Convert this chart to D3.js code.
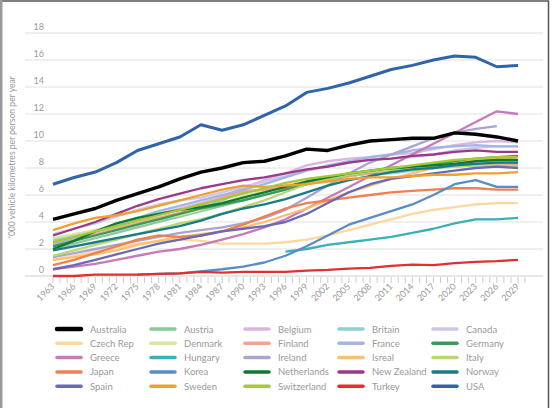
<!DOCTYPE html>
<html>
<head>
<meta charset="utf-8">
<script src="https://cdn.jsdelivr.net/npm/d3@7"></script>
<style>
  body { margin: 0; background: #fff; }
  svg { display: block; font-family: Lato, "Open Sans", sans-serif; }
</style>
</head>
<body>
<div id="chart"></div>
<script>
// years shown on the x axis (every 3 years)
var years = d3.range(1963, 2030, 3);
var yTicks = [0, 2, 4, 6, 8, 10, 12, 14, 16, 18];

var countries = ['Australia','Austria','Belgium','Britain','Canada',
                 'Czech Rep','Denmark','Finland','France','Germany',
                 'Greece','Hungary','Ireland','Isreal','Italy',
                 'Japan','Korea','Netherlands','New Zealand','Norway',
                 'Spain','Sweden','Switzerland','Turkey','USA'];

var colors = ['#000000','#8cc89a','#dcb6dc','#8fd0d0','#cfc6e6',
              '#fcd8a0','#d4e6a0','#f4a48c','#a4b4e4','#3a9a5a',
              '#c77ab8','#3bb0b8','#a8a4d4','#f8c070','#b8d870',
              '#f08050','#5a8cc8','#107a30','#9a3a8a','#1a7a8a',
              '#6a68b8','#f0a030','#a8c838','#e03030','#2f65a8'];

// '000 km per person per year, one value per entry of `years`
var australia   = [4.2,4.6,5.0,5.6,6.1,6.6,7.2,7.7,8.0,8.4,8.5,8.9,9.4,9.3,9.7,10.0,10.1,10.2,10.2,10.6,10.5,10.3,10.0];
var austria     = [2.0,2.4,2.8,3.2,3.6,4.0,4.4,4.8,5.2,5.6,6.0,6.4,6.8,7.1,7.4,7.6,7.8,8.0,8.2,8.4,8.5,8.5,8.5];
var belgium     = [2.6,3.0,3.4,3.8,4.2,4.6,5.0,5.4,5.9,6.5,7.1,7.6,8.2,8.5,8.7,8.8,9.0,9.1,9.4,9.7,9.9,10.0,9.9];
var britain     = [2.7,3.0,3.3,3.6,3.9,4.2,4.5,5.0,5.6,6.2,6.4,6.7,7.0,7.3,7.5,7.6,7.6,7.8,8.0,8.1,8.2,8.3,8.3];
var canada      = [3.1,3.5,3.9,4.4,4.9,5.3,5.6,5.8,6.2,6.6,7.0,7.4,7.8,8.1,8.4,8.6,8.7,8.8,9.0,9.3,9.5,9.6,9.6];
var czechRep    = [1.2,1.5,1.8,2.1,2.4,2.6,2.7,2.6,2.4,2.4,2.4,2.5,2.7,3.0,3.4,3.8,4.2,4.6,4.9,5.1,5.3,5.4,5.4];
var denmark     = [2.8,3.1,3.4,3.7,4.0,4.3,4.5,4.9,5.4,5.9,6.3,6.7,7.0,7.2,7.4,7.6,7.8,8.0,8.2,8.4,8.6,8.7,8.8];
var finland     = [2.3,2.7,3.1,3.5,3.9,4.3,4.7,5.2,5.8,6.3,6.4,6.5,6.8,7.1,7.4,7.6,7.8,8.0,8.1,8.2,8.3,8.3,8.2];
var france      = [2.4,2.8,3.3,3.8,4.3,4.8,5.2,5.6,6.0,6.4,6.8,7.3,7.8,8.2,8.5,8.8,9.0,9.3,9.5,9.6,9.7,9.6,9.6];
var germany     = [2.2,2.6,3.0,3.4,3.8,4.2,4.6,5.0,5.3,5.6,6.0,6.4,6.8,7.2,7.5,7.7,7.9,8.1,8.3,8.5,8.7,8.8,8.9];
var greece      = [0.5,0.7,0.9,1.2,1.5,1.8,2.0,2.3,2.7,3.1,3.6,4.2,5.0,5.8,6.6,7.4,8.2,9.0,9.8,10.6,11.4,12.2,12.0];
var hungary     = [null,null,null,null,null,null,null,null,null,null,null,1.8,2.0,2.3,2.5,2.7,2.9,3.2,3.5,3.9,4.2,4.2,4.3];
var ireland     = [1.4,1.7,2.0,2.3,2.6,2.9,3.2,3.4,3.6,3.9,4.3,4.9,5.8,6.7,7.6,8.4,9.0,9.6,10.2,10.6,10.9,11.1,null];
var israel      = [1.2,1.4,1.6,1.9,2.3,2.6,2.9,3.1,3.3,3.6,4.0,4.5,5.0,5.6,6.2,6.7,7.2,7.6,8.0,8.3,8.6,8.7,8.6];
var italy       = [1.5,1.9,2.3,2.7,3.1,3.5,3.9,4.2,4.6,5.1,5.6,6.2,6.8,7.2,7.5,7.7,7.8,7.9,8.0,8.1,8.2,8.2,8.1];
var japan       = [0.8,1.2,1.7,2.2,2.7,3.0,2.9,3.0,3.3,3.8,4.4,5.0,5.4,5.6,5.8,6.0,6.2,6.3,6.4,6.5,6.5,6.4,6.4];
var korea       = [null,null,null,null,0.1,0.15,0.2,0.35,0.5,0.7,1.0,1.5,2.2,3.0,3.8,4.3,4.8,5.3,6.0,6.8,7.1,6.6,6.6];
var netherlands = [2.0,2.6,3.3,3.9,4.3,4.6,4.9,5.1,5.4,5.8,6.2,6.6,7.0,7.3,7.6,7.8,8.0,8.1,8.2,8.3,8.5,8.6,8.6];
var newZealand  = [3.0,3.5,4.0,4.6,5.2,5.7,6.1,6.5,6.8,7.1,7.3,7.6,7.9,8.1,8.4,8.6,8.7,8.9,9.0,9.2,9.3,9.2,9.2];
var norway      = [1.9,2.2,2.5,2.8,3.1,3.4,3.7,4.1,4.6,5.0,5.3,5.7,6.2,6.7,7.1,7.4,7.7,7.9,8.0,8.2,8.3,8.4,8.4];
var spain       = [0.5,0.8,1.2,1.6,2.0,2.4,2.7,3.0,3.3,3.5,3.7,4.0,4.6,5.4,6.2,6.8,7.2,7.4,7.6,7.8,8.0,8.1,8.0];
var sweden      = [3.4,3.9,4.3,4.5,4.8,5.2,5.6,6.0,6.4,6.7,6.6,6.7,6.8,7.0,7.2,7.3,7.3,7.4,7.5,7.5,7.6,7.6,7.7];
var switzerland = [2.5,2.9,3.3,3.7,4.1,4.5,4.9,5.3,5.7,6.1,6.5,6.9,7.2,7.4,7.6,7.8,8.0,8.2,8.4,8.6,8.7,8.8,8.8];
var turkey      = [0.0,0.0,0.1,0.1,0.1,0.15,0.2,0.3,0.25,0.3,0.3,0.3,0.4,0.45,0.55,0.6,0.75,0.85,0.8,0.95,1.05,1.1,1.2];
var usa         = [6.8,7.3,7.7,8.4,9.3,9.8,10.3,11.2,10.8,11.2,11.9,12.6,13.6,13.9,14.3,14.8,15.3,15.6,16.0,16.3,16.2,15.5,15.6];

var values = [australia,austria,belgium,britain,canada,
              czechRep,denmark,finland,france,germany,
              greece,hungary,ireland,israel,italy,
              japan,korea,netherlands,newZealand,norway,
              spain,sweden,switzerland,turkey,usa];

var series = countries.map((c,i) => ({name: c, color: colors[i], values: values[i]}));

var W = 556, H = 408;
var svg = d3.select('#chart').append('svg')
    .attr('width', W)
    .attr('height', H);

var x = d3.scaleLinear().domain([1963, 2029]).range([53, 518]);
var y = d3.scaleLinear().domain([0, 18]).range([276, 33]);

// frame
svg.append('rect').attr('x', 1).attr('y', 1).attr('width', 547.5).attr('height', 420)
    .attr('fill', 'none').attr('stroke', '#555').attr('stroke-width', 1.5);
svg.append('line').attr('x1', 1).attr('x2', 1).attr('y1', 0).attr('y2', H)
    .attr('stroke', '#999').attr('stroke-width', 3);

// gridlines + y labels
var grid = svg.append('g');
grid.selectAll('line').data(yTicks).join('line')
    .attr('x1', 25).attr('x2', 543)
    .attr('y1', d => y(d)).attr('y2', d => y(d))
    .attr('stroke', d => d == 0 ? '#cfcfcf' : '#e0e0e0')
    .attr('stroke-width', 1);
grid.selectAll('text').data(yTicks).join('text')
    .attr('x', 44).attr('y', d => y(d) - 3)
    .attr('text-anchor', 'end')
    .attr('font-size', 9).attr('fill', '#9a9a9a')
    .text(d => d);

svg.append('text')
    .attr('transform', 'translate(15,157) rotate(-90)')
    .attr('text-anchor', 'middle')
    .attr('font-size', 8.6).attr('fill', '#9a9a9a')
    .text("'000 vehicle kilometres per person per year");

// x axis: a tick every year, a label every 3 years
var xAxis = svg.append('g').attr('transform', `translate(0,${y(0)})`);
xAxis.selectAll('line').data(d3.range(1963, 2031)).join('line')
    .attr('x1', d => x(d)).attr('x2', d => x(d))
    .attr('y1', 1).attr('y2', 7)
    .attr('stroke', '#cccccc');
xAxis.selectAll('text').data(years).join('text')
    .attr('transform', d => `translate(${x(d) + 2},${11}) rotate(-45)`)
    .attr('text-anchor', 'end')
    .attr('font-size', 9).attr('fill', '#9a9a9a')
    .text(d => d);

// lines
var line = d3.line()
    .defined(d => d.v != null)
    .x(d => x(d.year))
    .y(d => y(d.v));

svg.append('g').selectAll('path')
    .data(series.slice().sort((a,b) => (a.name == 'Australia' || a.name == 'USA') - (b.name == 'Australia' || b.name == 'USA')))
    .join('path')
    .attr('d', s => line(years.map((yr,i) => ({year: yr, v: s.values[i]}))))
    .attr('fill', 'none')
    .attr('stroke', s => s.color)
    .attr('stroke-width', s => s.name == 'Australia' ? 3.4 : s.name == 'USA' ? 3 : 2.3)
    .attr('stroke-linejoin', 'round');

// legend, 5 columns x 5 rows
var legend = svg.append('g');
var item = legend.selectAll('g').data(series).join('g')
    .attr('transform', (d,i) => `translate(${57 + (i % 5) * 94},${329 + Math.floor(i / 5) * 14.3})`);
item.append('line')
    .attr('x1', 0).attr('x2', 24)
    .attr('stroke', d => d.color)
    .attr('stroke-width', d => d.name == 'Australia' ? 4.5 : 3.5)
    .attr('stroke-linecap', 'round');
item.append('text')
    .attr('x', 33).attr('y', 3.5)
    .attr('font-size', 9.5).attr('fill', '#9a9a9a')
    .text(d => d.name);
</script>
</body>
</html>
